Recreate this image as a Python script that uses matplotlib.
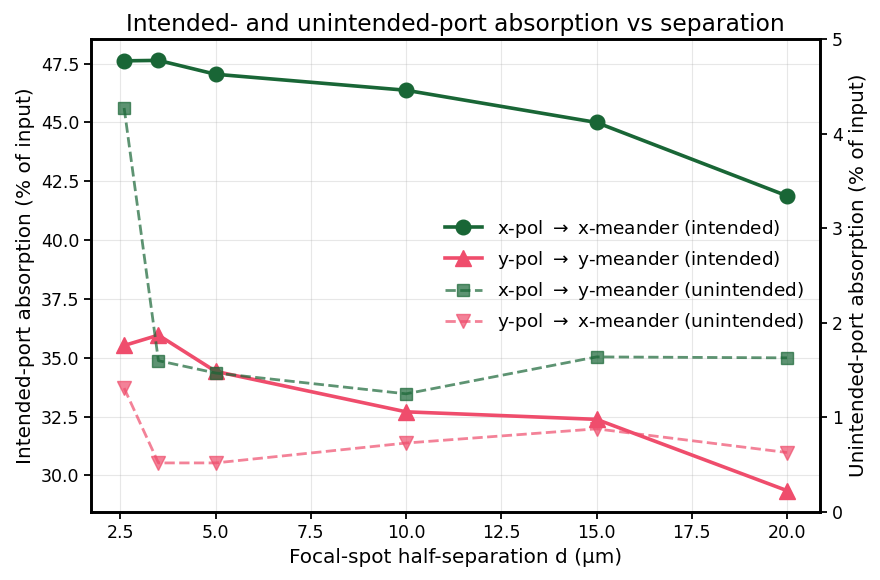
import matplotlib.pyplot as plt
import numpy as np

# Focal-spot half-separation d (um)
d_um = [2.6, 3.5, 5.0, 10.0, 15.0, 20.0]

# Intended-port absorption (% of input), left axis
x_to_x = [47.62, 47.64, 47.05, 46.37, 45.0, 41.88]
y_to_y = [35.52, 35.96, 34.42, 32.70, 32.38, 29.35]

# Unintended-port absorption (% of input), right axis
x_to_y = [4.27, 1.60, 1.47, 1.25, 1.64, 1.63]
y_to_x = [1.31, 0.52, 0.52, 0.73, 0.88, 0.63]

green = '#196636'
pink = '#ef4d6c'

fig, ax = plt.subplots(figsize=(8.8, 5.8), dpi=100)
ax2 = ax.twinx()

l1, = ax.plot(d_um, x_to_x, color=green, marker='o', markersize=10.5, linewidth=2.6,
              label='x-pol $\\rightarrow$ x-meander (intended)')
l2, = ax.plot(d_um, y_to_y, color=pink, marker='^', markersize=11, linewidth=2.6,
              label='y-pol $\\rightarrow$ y-meander (intended)')
l3, = ax2.plot(d_um, x_to_y, color=green, marker='s', markersize=9, linewidth=2,
               linestyle='--', alpha=0.7, label='x-pol $\\rightarrow$ y-meander (unintended)')
l4, = ax2.plot(d_um, y_to_x, color=pink, marker='v', markersize=9.5, linewidth=2,
               linestyle='--', alpha=0.7, label='y-pol $\\rightarrow$ x-meander (unintended)')

ax2.set_ylim(0, 5)
ax.grid(True, alpha=0.3)

ax.set_xlabel('Focal-spot half-separation d (µm)', fontsize=14.4)
ax.set_ylabel('Intended-port absorption (% of input)', fontsize=14.4)
ax2.set_ylabel('Unintended-port absorption (% of input)', fontsize=14.4)
ax.set_title('Intended- and unintended-port absorption vs separation', fontsize=16.8)
ax.tick_params(labelsize=12.5, width=1.3, length=5)
ax2.tick_params(labelsize=12.5, width=1.3, length=5)
for a in (ax, ax2):
    for s in a.spines.values():
        s.set_linewidth(1.9)

lines = [l1, l2, l3, l4]
ax.legend(lines, [l.get_label() for l in lines], loc='center right',
          frameon=False, fontsize=13.3)

fig.subplots_adjust(left=0.1034, right=0.932, top=0.933, bottom=0.117)
fig.savefig('out.png')
